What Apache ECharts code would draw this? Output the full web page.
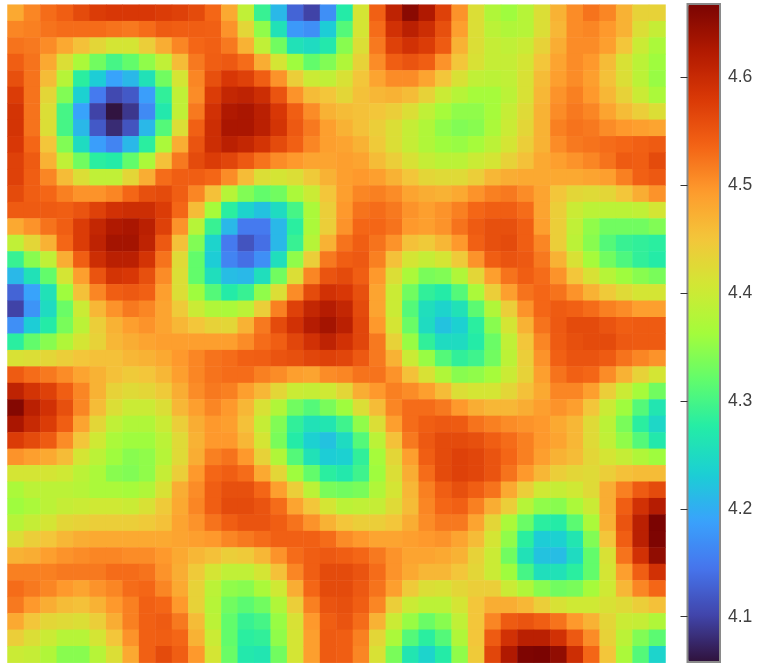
<!DOCTYPE html>
<html><head><meta charset="utf-8">
<style>html,body{margin:0;padding:0;background:#fff}#c{width:768px;height:669px}</style>
<script src="https://cdn.jsdelivr.net/npm/echarts@6/dist/echarts.min.js"></script>
</head><body><div id="c"></div>
<script>
const row00=[4.48,4.51,4.53,4.542,4.562,4.577,4.582,4.582,4.582,4.577,4.572,4.562,4.535,4.48,4.39,4.29,4.21,4.13,4.10,4.17,4.275,4.41,4.54,4.61,4.655,4.625,4.572,4.50,4.42,4.375,4.36,4.38,4.42,4.47,4.505,4.525,4.51,4.47,4.435,4.435];
const row01=[4.51,4.515,4.525,4.53,4.53,4.53,4.525,4.52,4.53,4.545,4.542,4.542,4.54,4.50,4.43,4.35,4.26,4.18,4.17,4.23,4.31,4.41,4.53,4.59,4.615,4.595,4.557,4.49,4.42,4.385,4.375,4.38,4.42,4.465,4.505,4.51,4.495,4.47,4.42,4.395];
const row02=[4.525,4.52,4.505,4.48,4.455,4.43,4.41,4.41,4.44,4.475,4.51,4.535,4.54,4.52,4.47,4.39,4.33,4.26,4.25,4.27,4.345,4.42,4.52,4.572,4.59,4.577,4.545,4.47,4.42,4.395,4.39,4.40,4.435,4.475,4.505,4.505,4.49,4.45,4.40,4.37];
const row03=[4.542,4.525,4.48,4.42,4.37,4.33,4.30,4.32,4.35,4.39,4.46,4.52,4.542,4.547,4.53,4.475,4.41,4.36,4.32,4.34,4.375,4.435,4.505,4.542,4.552,4.542,4.50,4.45,4.415,4.395,4.395,4.41,4.45,4.485,4.505,4.495,4.46,4.415,4.385,4.36];
const row04=[4.557,4.525,4.46,4.38,4.28,4.23,4.19,4.21,4.26,4.33,4.41,4.51,4.557,4.582,4.572,4.542,4.50,4.44,4.40,4.39,4.415,4.45,4.485,4.505,4.505,4.485,4.45,4.415,4.39,4.385,4.39,4.415,4.46,4.49,4.505,4.49,4.455,4.42,4.385,4.355];
const row05=[4.577,4.525,4.43,4.34,4.235,4.15,4.105,4.12,4.185,4.285,4.39,4.505,4.577,4.605,4.61,4.595,4.552,4.50,4.46,4.45,4.43,4.455,4.465,4.47,4.46,4.435,4.40,4.38,4.365,4.365,4.385,4.415,4.465,4.50,4.515,4.495,4.465,4.435,4.40,4.37];
const row06=[4.587,4.525,4.42,4.30,4.19,4.10,4.06,4.09,4.165,4.27,4.39,4.52,4.59,4.625,4.63,4.615,4.582,4.542,4.505,4.47,4.46,4.455,4.45,4.44,4.42,4.39,4.365,4.35,4.35,4.365,4.395,4.425,4.47,4.505,4.52,4.51,4.485,4.46,4.44,4.42];
const row07=[4.587,4.525,4.42,4.30,4.21,4.12,4.08,4.115,4.21,4.31,4.42,4.54,4.595,4.63,4.63,4.615,4.587,4.547,4.52,4.49,4.47,4.455,4.44,4.42,4.395,4.375,4.35,4.34,4.345,4.37,4.40,4.43,4.47,4.515,4.525,4.52,4.505,4.495,4.49,4.485];
const row08=[4.582,4.535,4.45,4.34,4.25,4.185,4.16,4.21,4.28,4.37,4.475,4.552,4.595,4.615,4.605,4.587,4.562,4.54,4.51,4.49,4.485,4.47,4.445,4.42,4.395,4.375,4.36,4.355,4.365,4.385,4.41,4.44,4.47,4.505,4.52,4.525,4.53,4.535,4.54,4.545];
const row09=[4.572,4.545,4.47,4.39,4.33,4.28,4.275,4.32,4.37,4.455,4.52,4.562,4.577,4.567,4.547,4.525,4.505,4.495,4.485,4.485,4.49,4.485,4.46,4.44,4.415,4.395,4.385,4.385,4.40,4.41,4.435,4.455,4.48,4.49,4.50,4.51,4.525,4.545,4.542,4.562];
const row10=[4.572,4.542,4.51,4.46,4.42,4.39,4.39,4.43,4.475,4.53,4.542,4.542,4.535,4.505,4.46,4.42,4.41,4.42,4.445,4.47,4.49,4.495,4.49,4.47,4.45,4.43,4.425,4.425,4.44,4.465,4.475,4.48,4.48,4.48,4.48,4.485,4.49,4.515,4.54,4.547];
const row11=[4.562,4.542,4.535,4.515,4.50,4.50,4.51,4.535,4.557,4.562,4.542,4.51,4.455,4.38,4.34,4.32,4.33,4.37,4.40,4.45,4.49,4.51,4.515,4.505,4.485,4.475,4.47,4.48,4.50,4.515,4.52,4.505,4.485,4.45,4.43,4.425,4.43,4.45,4.475,4.50];
const row12=[4.545,4.545,4.545,4.542,4.552,4.572,4.59,4.595,4.595,4.577,4.535,4.46,4.365,4.28,4.24,4.22,4.25,4.30,4.37,4.44,4.495,4.525,4.53,4.52,4.50,4.49,4.50,4.515,4.535,4.542,4.542,4.53,4.485,4.44,4.40,4.385,4.385,4.385,4.39,4.41];
const row13=[4.48,4.50,4.525,4.542,4.577,4.605,4.625,4.63,4.615,4.572,4.50,4.38,4.29,4.21,4.15,4.15,4.21,4.28,4.37,4.44,4.50,4.535,4.535,4.525,4.495,4.49,4.50,4.525,4.545,4.557,4.557,4.542,4.49,4.44,4.39,4.35,4.33,4.33,4.33,4.34];
const row14=[4.39,4.43,4.47,4.535,4.577,4.61,4.635,4.635,4.61,4.547,4.455,4.34,4.24,4.15,4.115,4.14,4.21,4.29,4.38,4.47,4.525,4.542,4.525,4.50,4.455,4.445,4.465,4.495,4.54,4.557,4.562,4.542,4.51,4.44,4.385,4.345,4.31,4.29,4.285,4.28];
const row15=[4.29,4.345,4.39,4.475,4.542,4.595,4.615,4.615,4.587,4.525,4.425,4.32,4.23,4.16,4.14,4.17,4.255,4.35,4.44,4.52,4.542,4.547,4.515,4.455,4.41,4.395,4.41,4.445,4.50,4.542,4.552,4.547,4.52,4.47,4.415,4.365,4.33,4.305,4.285,4.275];
const row16=[4.21,4.26,4.32,4.41,4.49,4.552,4.587,4.582,4.557,4.505,4.42,4.32,4.255,4.215,4.21,4.255,4.33,4.42,4.51,4.552,4.562,4.542,4.495,4.42,4.37,4.335,4.34,4.375,4.43,4.49,4.525,4.542,4.53,4.50,4.45,4.415,4.38,4.36,4.345,4.335];
const row17=[4.13,4.19,4.26,4.36,4.455,4.51,4.542,4.547,4.54,4.49,4.42,4.36,4.31,4.275,4.29,4.35,4.42,4.505,4.562,4.59,4.582,4.557,4.485,4.40,4.33,4.285,4.275,4.31,4.37,4.44,4.49,4.525,4.535,4.525,4.50,4.47,4.445,4.425,4.41,4.41];
const row18=[4.10,4.175,4.25,4.325,4.40,4.465,4.50,4.52,4.51,4.485,4.445,4.40,4.375,4.37,4.385,4.44,4.515,4.572,4.605,4.62,4.605,4.562,4.485,4.40,4.31,4.255,4.24,4.26,4.315,4.375,4.44,4.50,4.535,4.545,4.54,4.53,4.515,4.505,4.49,4.49];
const row19=[4.17,4.23,4.275,4.335,4.385,4.44,4.47,4.49,4.50,4.485,4.465,4.45,4.435,4.43,4.47,4.52,4.562,4.59,4.62,4.635,4.615,4.567,4.495,4.41,4.325,4.25,4.22,4.235,4.28,4.345,4.41,4.47,4.525,4.547,4.562,4.562,4.552,4.542,4.545,4.545];
const row20=[4.28,4.32,4.345,4.375,4.41,4.435,4.465,4.475,4.485,4.49,4.49,4.49,4.49,4.49,4.505,4.53,4.542,4.567,4.59,4.61,4.59,4.567,4.52,4.435,4.355,4.285,4.25,4.25,4.275,4.325,4.39,4.45,4.51,4.545,4.557,4.562,4.562,4.547,4.545,4.545];
const row21=[4.415,4.42,4.43,4.44,4.45,4.455,4.455,4.465,4.47,4.48,4.495,4.51,4.525,4.53,4.54,4.542,4.552,4.557,4.567,4.572,4.567,4.547,4.52,4.47,4.40,4.355,4.31,4.285,4.295,4.33,4.385,4.44,4.50,4.54,4.552,4.552,4.545,4.525,4.51,4.50];
const row22=[4.545,4.53,4.52,4.505,4.485,4.47,4.455,4.445,4.45,4.465,4.49,4.51,4.525,4.53,4.53,4.515,4.505,4.49,4.485,4.505,4.51,4.525,4.525,4.50,4.455,4.415,4.375,4.345,4.35,4.365,4.40,4.435,4.49,4.525,4.54,4.535,4.505,4.47,4.435,4.41];
const row23=[4.61,4.587,4.572,4.542,4.51,4.47,4.435,4.425,4.43,4.445,4.475,4.505,4.52,4.515,4.49,4.465,4.43,4.40,4.395,4.405,4.43,4.475,4.495,4.515,4.505,4.49,4.46,4.42,4.41,4.41,4.43,4.455,4.48,4.51,4.51,4.49,4.44,4.40,4.365,4.33];
const row24=[4.66,4.615,4.59,4.557,4.51,4.46,4.42,4.40,4.40,4.42,4.465,4.49,4.51,4.495,4.465,4.415,4.375,4.33,4.31,4.335,4.36,4.42,4.46,4.51,4.53,4.53,4.52,4.495,4.475,4.465,4.465,4.475,4.49,4.50,4.49,4.45,4.40,4.36,4.31,4.265];
const row25=[4.63,4.60,4.577,4.542,4.485,4.43,4.39,4.375,4.375,4.40,4.44,4.475,4.495,4.49,4.455,4.395,4.34,4.285,4.26,4.265,4.295,4.35,4.42,4.49,4.53,4.542,4.547,4.545,4.525,4.515,4.505,4.50,4.495,4.48,4.465,4.425,4.385,4.335,4.28,4.245];
const row26=[4.577,4.562,4.545,4.505,4.45,4.405,4.37,4.36,4.36,4.385,4.425,4.47,4.495,4.495,4.465,4.41,4.335,4.275,4.235,4.22,4.25,4.31,4.385,4.455,4.52,4.547,4.562,4.562,4.557,4.542,4.53,4.515,4.495,4.485,4.465,4.425,4.39,4.35,4.31,4.27];
const row27=[4.50,4.49,4.48,4.46,4.41,4.385,4.36,4.345,4.35,4.38,4.425,4.475,4.515,4.525,4.495,4.435,4.375,4.31,4.26,4.23,4.235,4.285,4.365,4.43,4.49,4.542,4.562,4.572,4.567,4.552,4.535,4.515,4.49,4.47,4.46,4.43,4.41,4.395,4.375,4.36];
const row28=[4.41,4.41,4.41,4.405,4.385,4.37,4.345,4.34,4.35,4.395,4.44,4.495,4.535,4.542,4.53,4.48,4.43,4.36,4.32,4.28,4.27,4.295,4.36,4.42,4.475,4.53,4.562,4.572,4.567,4.552,4.525,4.495,4.465,4.44,4.43,4.425,4.44,4.455,4.46,4.46];
const row29=[4.37,4.385,4.385,4.385,4.38,4.37,4.37,4.365,4.375,4.415,4.475,4.505,4.542,4.557,4.557,4.535,4.49,4.44,4.385,4.335,4.33,4.335,4.375,4.41,4.465,4.515,4.542,4.557,4.542,4.525,4.48,4.44,4.405,4.395,4.405,4.425,4.475,4.515,4.545,4.562];
const row30=[4.36,4.37,4.385,4.395,4.40,4.405,4.405,4.40,4.415,4.445,4.48,4.51,4.542,4.562,4.562,4.552,4.53,4.485,4.45,4.41,4.385,4.39,4.395,4.425,4.46,4.51,4.535,4.54,4.515,4.475,4.44,4.38,4.35,4.345,4.37,4.40,4.475,4.542,4.59,4.62];
const row31=[4.38,4.395,4.41,4.43,4.435,4.44,4.44,4.44,4.445,4.455,4.485,4.50,4.525,4.542,4.552,4.552,4.542,4.525,4.50,4.47,4.45,4.44,4.44,4.45,4.475,4.505,4.52,4.52,4.485,4.43,4.37,4.325,4.28,4.275,4.315,4.37,4.47,4.552,4.615,4.667];
const row32=[4.42,4.44,4.45,4.465,4.475,4.48,4.48,4.48,4.48,4.48,4.485,4.49,4.495,4.51,4.52,4.53,4.54,4.54,4.54,4.53,4.505,4.495,4.485,4.485,4.49,4.495,4.50,4.485,4.46,4.41,4.35,4.28,4.23,4.235,4.265,4.34,4.45,4.542,4.615,4.665];
const row33=[4.47,4.475,4.49,4.50,4.505,4.51,4.51,4.505,4.505,4.495,4.48,4.465,4.455,4.44,4.445,4.465,4.50,4.53,4.542,4.547,4.542,4.535,4.52,4.50,4.485,4.485,4.48,4.47,4.435,4.40,4.33,4.26,4.22,4.215,4.25,4.32,4.415,4.525,4.59,4.65];
const row34=[4.515,4.515,4.515,4.52,4.52,4.52,4.53,4.53,4.525,4.50,4.475,4.445,4.41,4.39,4.39,4.41,4.455,4.51,4.542,4.562,4.562,4.552,4.53,4.50,4.48,4.465,4.465,4.45,4.43,4.40,4.36,4.30,4.255,4.26,4.28,4.32,4.41,4.49,4.542,4.59];
const row35=[4.53,4.52,4.51,4.495,4.485,4.50,4.51,4.53,4.535,4.51,4.48,4.435,4.385,4.35,4.345,4.37,4.405,4.475,4.535,4.562,4.562,4.547,4.525,4.49,4.445,4.42,4.415,4.43,4.44,4.44,4.40,4.375,4.345,4.33,4.335,4.365,4.405,4.465,4.51,4.535];
const row36=[4.52,4.495,4.475,4.46,4.455,4.47,4.495,4.515,4.54,4.535,4.495,4.435,4.38,4.33,4.315,4.33,4.375,4.44,4.515,4.552,4.557,4.542,4.51,4.44,4.40,4.385,4.385,4.41,4.45,4.475,4.475,4.465,4.44,4.415,4.405,4.405,4.415,4.425,4.44,4.455];
const row37=[4.48,4.45,4.43,4.425,4.42,4.44,4.475,4.515,4.54,4.545,4.52,4.46,4.385,4.32,4.29,4.30,4.355,4.415,4.495,4.542,4.552,4.53,4.47,4.40,4.355,4.325,4.345,4.39,4.45,4.51,4.545,4.552,4.542,4.525,4.495,4.47,4.43,4.40,4.395,4.375];
const row38=[4.44,4.42,4.40,4.38,4.38,4.41,4.45,4.50,4.54,4.542,4.535,4.47,4.40,4.32,4.28,4.285,4.35,4.41,4.49,4.545,4.542,4.515,4.43,4.37,4.31,4.28,4.31,4.375,4.45,4.545,4.59,4.615,4.615,4.59,4.547,4.505,4.435,4.385,4.34,4.315];
const row39=[4.40,4.395,4.375,4.345,4.345,4.38,4.42,4.48,4.54,4.562,4.542,4.495,4.41,4.325,4.27,4.265,4.33,4.41,4.49,4.545,4.542,4.51,4.415,4.335,4.265,4.24,4.275,4.35,4.445,4.567,4.625,4.665,4.667,4.65,4.595,4.535,4.45,4.37,4.31,4.24];
const rows=[row00,row01,row02,row03,row04,row05,row06,row07,row08,row09,row10,row11,row12,row13,row14,row15,row16,row17,row18,row19,row20,row21,row22,row23,row24,row25,row26,row27,row28,row29,row30,row31,row32,row33,row34,row35,row36,row37,row38,row39];
const colorTicks=[4.1,4.2,4.3,4.4,4.5,4.6];
const vMin=4.058, vMax=4.668;
const turbo=["#30123b","#4145ab","#4675ed","#39a2fc","#1bcfd4","#24eca6","#61fc6c","#a4fc3b","#d1e834","#f3c63a","#fe9b2d","#f36315","#d93806","#b11901","#7a0402"];

const cats=rows[0].map((_,i)=>i);
const data=[];
rows.forEach((r,y)=>r.forEach((v,x)=>data.push([x,y,v])));

const chart=echarts.init(document.getElementById('c'),null,{renderer:'canvas'});
chart.setOption({
  animation:false,
  backgroundColor:'#fff',
  grid:[
    {left:7.5,top:4.7,width:658,height:658,show:false},
    {left:687.5,top:4,width:32.5,height:658,show:true,z:10,backgroundColor:'transparent',borderColor:'#8a8a8a',borderWidth:2}
  ],
  xAxis:[
    {type:'category',data:cats,gridIndex:0,show:false},
    {type:'value',gridIndex:1,show:false,min:0,max:1}
  ],
  yAxis:[
    {type:'category',data:cats,gridIndex:0,show:false,inverse:true},
    {type:'value',gridIndex:1,position:'right',min:vMin,max:vMax,z:12,
     splitLine:{show:false},
     axisLine:{show:false},
     axisTick:{show:true,inside:true,length:7,lineStyle:{color:'#333',width:1},customValues:colorTicks},
     axisLabel:{show:true,margin:8,fontSize:17.5,color:'#404040',fontFamily:'"Liberation Sans",Arial,sans-serif',customValues:colorTicks,formatter:v=>v.toFixed(1)}}
  ],
  visualMap:{
    type:'continuous',min:vMin,max:vMax,seriesIndex:0,calculable:false,realtime:false,
    left:688,top:4,itemWidth:32,itemHeight:658,padding:0,text:null,showLabel:false,
    inRange:{color:turbo},z:2
  },
  series:[{type:'heatmap',xAxisIndex:0,yAxisIndex:0,data:data,progressive:0,itemStyle:{borderWidth:0},emphasis:{disabled:true}}]
});
</script></body></html>
